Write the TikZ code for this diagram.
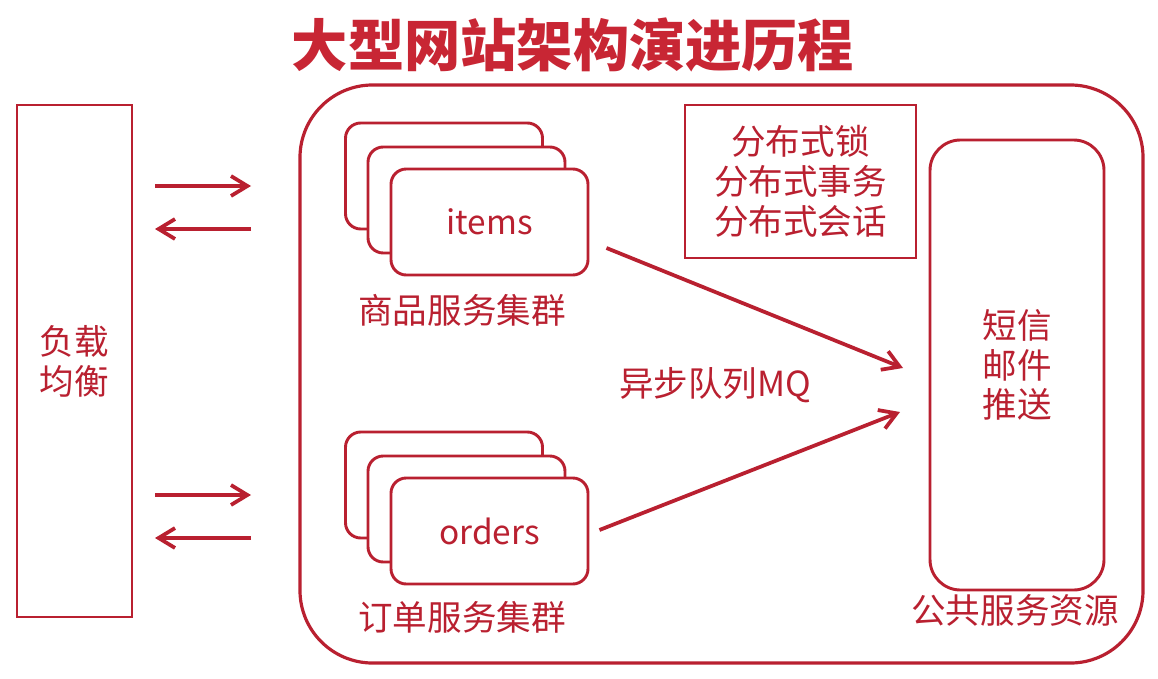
\documentclass[tikz,border=0pt]{standalone}
\usepackage{fontspec}
\setmainfont{Noto Sans CJK SC}
\usetikzlibrary{positioning, arrows.meta}
\definecolor{archred}{RGB}{185,32,48}
\definecolor{titlered}{RGB}{200,38,52}
\tikzset{
  server/.style={draw=archred, line width=2.5pt, fill=white, rounded corners=13pt,
                 minimum width=5.91cm, minimum height=3.18cm, inner sep=0pt,
                 text=archred, font=\fontsize{28.5}{33}\selectfont},
  caption/.style={text=archred, font=\fontsize{29.5}{34}\selectfont, align=center, inner sep=0pt},
  flow/.style={draw=archred, line width=3.2pt, -{Straight Barb[length=14pt, width=17pt]}}
}

\begin{document}
\begin{tikzpicture}[x=0.03cm, y=-0.03cm]

        % Frame
        \path[fill=white] (0,0) rectangle (1158,679);

        % Title
        \node[text=titlered, font=\fontsize{48}{54}\selectfont\bfseries, inner sep=0pt] (title) at (573,45) {大型网站架构演进历程};

        % Nodes
        \node[draw=archred, line width=2.5pt, minimum width=3.45cm, minimum height=15.36cm,
              caption] (lb) at (74.5,361) {负载\\均衡};
        \node[draw=archred, line width=2.7pt, rounded corners=62pt, minimum width=25.29cm,
              minimum height=17.34cm] (cluster) at (721.5,374) {};

        \node[server] (items3) at (444,176) {};
        \node[server] (items2) at (466.5,200) {};
        \node[server] (items) at (489.5,222) {items};
        \node[caption] (itemscap) at (462,310) {商品服务集群};

        \node[server] (orders3) at (444,485) {};
        \node[server] (orders2) at (466.5,509) {};
        \node[server] (orders) at (489.5,531) {orders};
        \node[caption] (orderscap) at (462,617) {订单服务集群};

        \node[draw=archred, line width=2.5pt, minimum width=6.93cm, minimum height=4.59cm,
              caption] (dist) at (800.5,181.5) {分布式锁\\分布式事务\\分布式会话};

        \node[draw=archred, line width=2.5pt, rounded corners=26pt, minimum width=5.22cm,
              minimum height=13.5cm, caption] (common) at (1017,365) {短信\\邮件\\推送};
        \node[caption] (commoncap) at (1015,610) {公共服务资源};

        \node[caption] (mq) at (715,385) {异步队列MQ};

        \coordinate (in1a) at (155,186);
        \coordinate (in1b) at (251,186);
        \coordinate (out1a) at (251,229);
        \coordinate (out1b) at (155,229);
        \coordinate (in2a) at (155,495);
        \coordinate (in2b) at (251,495);
        \coordinate (out2a) at (251,538);
        \coordinate (out2b) at (155,538);
        \coordinate (mq1) at (903,368);
        \coordinate (mq2) at (900,412);

        % Edges
        \draw[flow] (in1a) -- (in1b);
        \draw[flow] (out1a) -- (out1b);
        \draw[flow] (in2a) -- (in2b);
        \draw[flow] (out2a) -- (out2b);
        \draw[flow] ([shift={(17,26)}]items.east) -- (mq1);
        \draw[flow] ([shift={(10,-1)}]orders.east) -- (mq2);

    \end{tikzpicture}
\end{document}
